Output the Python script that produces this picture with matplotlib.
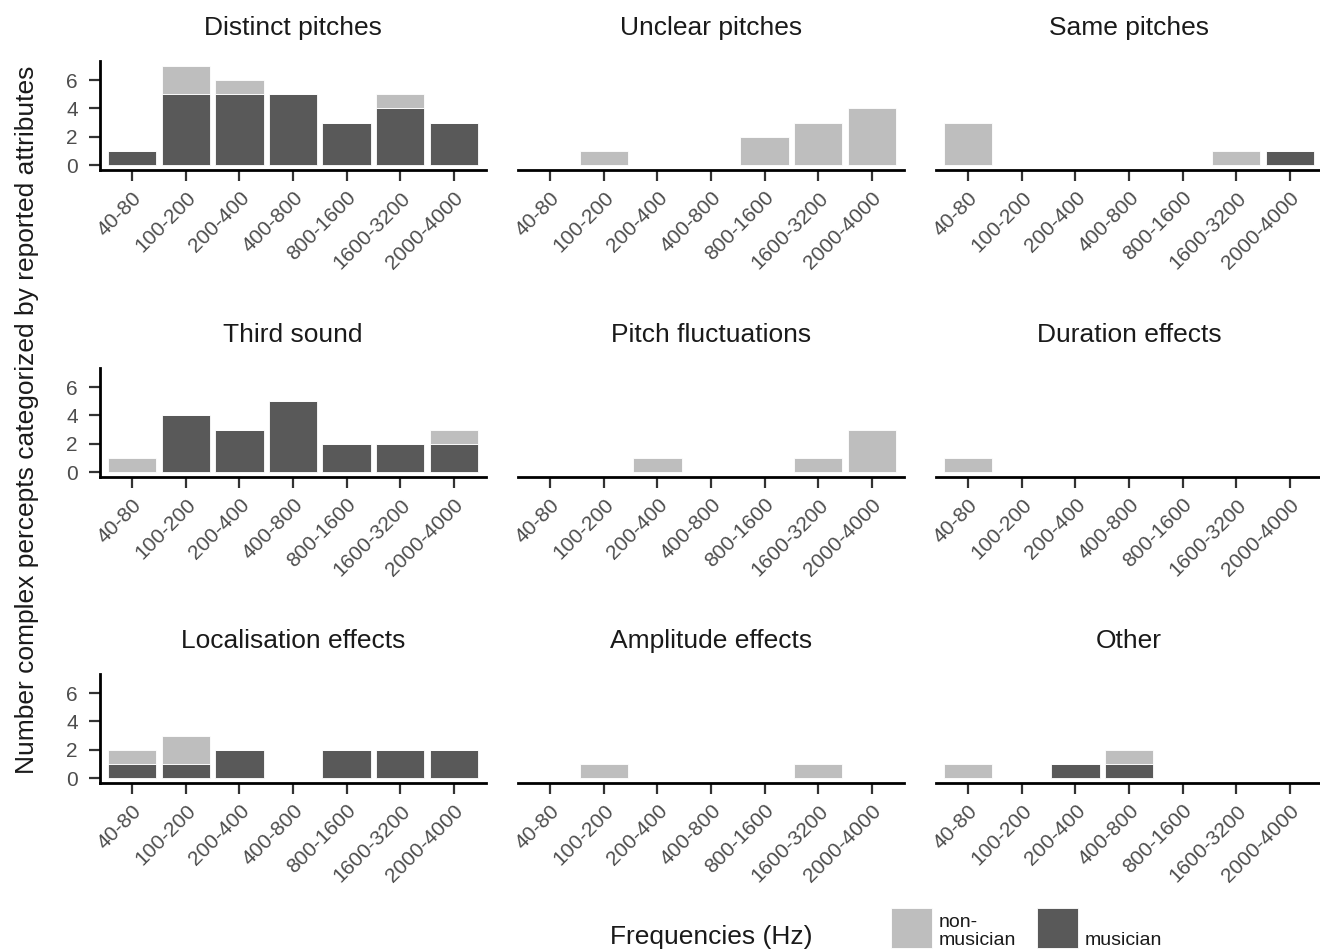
import matplotlib
matplotlib.use("Agg")
import matplotlib.pyplot as plt
from matplotlib.patches import Rectangle
import numpy as np

plt.rcParams['font.family'] = ['Liberation Sans', 'DejaVu Sans']

frequencies = ["40-80", "100-200", "200-400", "400-800", "800-1600", "1600-3200", "2000-4000"]

panel_titles = ["Distinct pitches", "Unclear pitches", "Same pitches",
                "Third sound", "Pitch fluctuations", "Duration effects",
                "Localisation effects", "Amplitude effects", "Other"]

musician = [
    [1, 5, 5, 5, 3, 4, 3],
    [0, 0, 0, 0, 0, 0, 0],
    [0, 0, 0, 0, 0, 0, 1],
    [0, 4, 3, 5, 2, 2, 2],
    [0, 0, 0, 0, 0, 0, 0],
    [0, 0, 0, 0, 0, 0, 0],
    [1, 1, 2, 0, 2, 2, 2],
    [0, 0, 0, 0, 0, 0, 0],
    [0, 0, 1, 1, 0, 0, 0],
]
non_musician = [
    [0, 2, 1, 0, 0, 1, 0],
    [0, 1, 0, 0, 2, 3, 4],
    [3, 0, 0, 0, 0, 1, 0],
    [1, 0, 0, 0, 0, 0, 1],
    [0, 0, 1, 0, 0, 1, 3],
    [1, 0, 0, 0, 0, 0, 0],
    [1, 2, 0, 0, 0, 0, 0],
    [0, 1, 0, 0, 0, 1, 0],
    [1, 0, 0, 1, 0, 0, 0],
]

y_ticks = [0, 2, 4, 6]
legend_labels = ["non-\nmusician", "musician"]

DARK = "#595959"
LIGHT = "#BEBEBE"
TEXT = "#4D4D4D"
TITLE = "#1A1A1A"

W, H = 1320, 950
fig = plt.figure(figsize=(W / 100, H / 100), dpi=100)

col_left = [100, 518, 936]
panel_w = 386
row_top = [61, 368, 674]
panel_h = 109

x = np.arange(len(frequencies))
for i, title in enumerate(panel_titles):
    r, c = divmod(i, 3)
    ax = fig.add_axes([col_left[c] / W, 1 - (row_top[r] + panel_h) / H,
                       panel_w / W, panel_h / H])
    m = np.array(musician[i])
    n = np.array(non_musician[i])
    ax.bar(x, m, width=0.9, color=DARK, edgecolor="white", linewidth=0.6)
    ax.bar(x, n, width=0.9, bottom=m, color=LIGHT, edgecolor="white", linewidth=0.6)
    ax.set_xlim(-0.6, 6.6)
    ax.set_ylim(-0.35, 7.35)
    ax.tick_params(axis="both", length=8, width=1.6, color="#333333",
                   labelsize=15, labelcolor=TEXT)
    ax.tick_params(axis="x", pad=5)
    ax.tick_params(axis="y", pad=8)
    ax.set_xticks(x)
    ax.set_xticklabels(frequencies, rotation=45, ha="right", rotation_mode="anchor")
    ax.set_yticks(y_ticks)
    ax.set_yticklabels([str(v) for v in y_ticks])
    for s in ["top", "right"]:
        ax.spines[s].set_visible(False)
    ax.spines["bottom"].set_linewidth(2)
    ax.spines["left"].set_linewidth(2)
    if c != 0:
        ax.spines["left"].set_visible(False)
        ax.tick_params(axis="y", left=False, labelleft=False)
    ax.set_title(title, fontsize=19, color=TITLE, pad=19)

fig.text(27 / W, 1 - 420 / H, "Number complex percepts categorized by reported attributes",
         rotation=90, ha="center", va="center", fontsize=19, color=TITLE)
fig.text(711 / W, 1 - 944 / H, "Frequencies (Hz)", ha="center", va="baseline",
         fontsize=19, color=TITLE)

# legend keys and labels, placed in pixel coordinates
key_left = [891, 1037]
key_colors = [LIGHT, DARK]
for kx, kc, lab in zip(key_left, key_colors, legend_labels):
    fig.add_artist(Rectangle((kx / W, 1 - 948 / H), 41 / W, 40 / H,
                             transform=fig.transFigure, facecolor=kc,
                             edgecolor="white", linewidth=0.6))
    fig.text((kx + 48) / W, 1 - 945 / H, lab, ha="left", va="baseline",
             fontsize=14, color=TITLE, linespacing=1.1)

fig.savefig("out.png", dpi=100)
